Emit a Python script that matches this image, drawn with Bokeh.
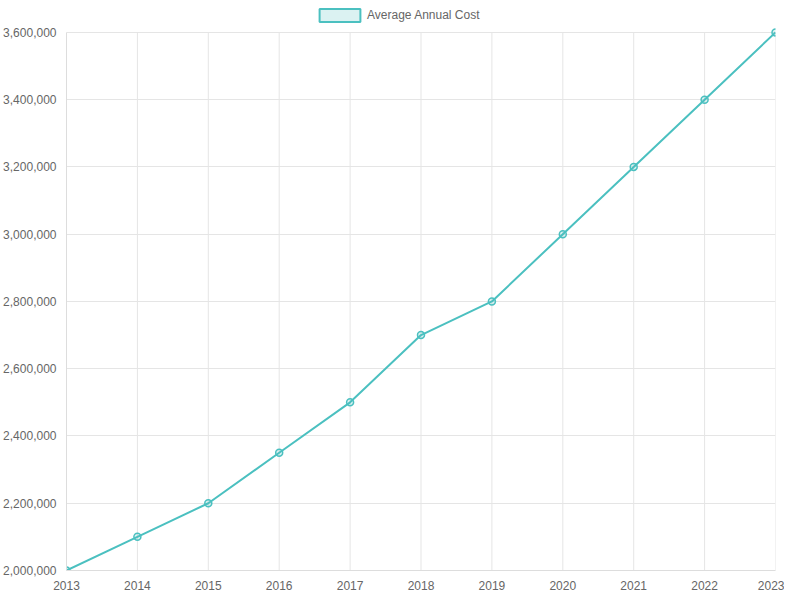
from bokeh.plotting import figure
from bokeh.models import Range1d, NumeralTickFormatter, FixedTicker, Legend, LegendItem, ColumnDataSource
from bokeh.embed import file_html
from bokeh.resources import INLINE

years = [2013, 2014, 2015, 2016, 2017, 2018, 2019, 2020, 2021, 2022, 2023]
costs = [2000000, 2100000, 2200000, 2350000, 2500000, 2700000, 2800000, 3000000, 3200000, 3400000, 3600000]
y_ticks = [2000000, 2200000, 2400000, 2600000, 2800000, 3000000, 3200000, 3400000, 3600000]
series_label = "Average Annual Cost"

TEAL = "#4bc0c0"
TEAL_FILL = "rgba(75,192,192,0.2)"
FONT = "Liberation Sans"
GRID = "#e5e5e5"

y_min, y_max = min(y_ticks), max(y_ticks)
# headroom above the top tick for the legend: 32px over a 540px data span
y_end = y_max + (y_max - y_min) * 32 / 540

p = figure(width=784, height=592, output_backend="svg", toolbar_location=None,
           x_range=Range1d(min(years), max(years)), y_range=Range1d(y_min, y_end),
           min_border_left=59, min_border_right=9, min_border_top=0, min_border_bottom=20)
p.outline_line_color = None
p.xgrid.visible = False

src = ColumnDataSource(dict(x=years, y=costs))
# vertical grid lines at each year, spanning the tick range only
p.segment(x0=years, y0=[y_min] * len(years), x1=years, y1=[y_max] * len(years),
          line_color=GRID, line_width=1)
# legend swatch renderer: zero-size boxes at the data points (invisible in the plot)
swatch = p.quad(left="x", right="x", top="y", bottom="y", source=src,
                fill_color=TEAL_FILL, line_color=TEAL, line_width=2)
p.line("x", "y", source=src, color=TEAL, line_width=2)
p.scatter("x", "y", source=src, size=7, fill_color=TEAL_FILL, line_color=TEAL, line_width=1.5)

p.xaxis.ticker = FixedTicker(ticks=years)
p.yaxis.ticker = FixedTicker(ticks=y_ticks)
p.yaxis.formatter = NumeralTickFormatter(format="0,0")
p.yaxis.bounds = (y_min, y_max)

for ax in (p.xaxis, p.yaxis):
    ax.major_label_text_font = FONT
    ax.major_label_text_font_size = "12px"
    ax.major_label_text_color = "#666666"
    ax.major_tick_out = 0
    ax.major_tick_in = 0
    ax.minor_tick_out = 0
    ax.minor_tick_in = 0
    ax.axis_line_color = "#dddddd"
    ax.axis_line_width = 1
p.xaxis.major_label_standoff = 10
p.yaxis.major_label_standoff = 10

p.ygrid.grid_line_color = GRID

legend = Legend(items=[LegendItem(label=series_label, renderers=[swatch])],
                location=(248, 547), orientation="horizontal",
                glyph_width=51, glyph_height=16, label_standoff=2, label_height=16,
                label_text_font=FONT, label_text_font_size="12px", label_text_color="#666666",
                padding=0, margin=0, border_line_color=None, background_fill_alpha=0)
p.add_layout(legend, "center")

open("out.html", "w").write(file_html(p, INLINE))
